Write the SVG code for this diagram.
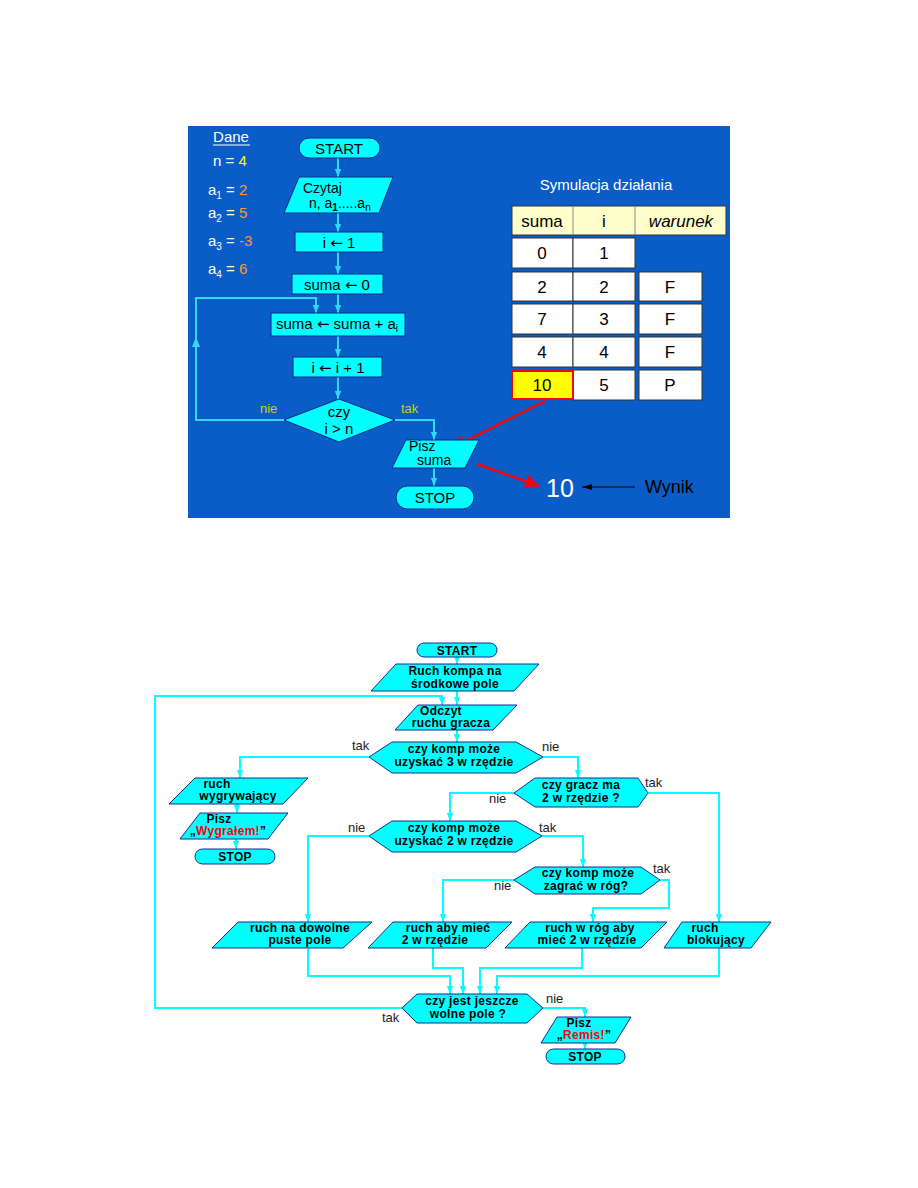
<svg xmlns="http://www.w3.org/2000/svg" width="918" height="1188" viewBox="0 0 918 1188">
<style>
.t{font-family:"Liberation Sans",Arial,sans-serif}
.w{fill:#ffffff}
.k{fill:#000000}
.c{fill:#00ffff;stroke:#1a2a8a;stroke-width:1}
.ct{fill:#00ffff;stroke:#0a2a90;stroke-width:1}
.cl{fill:none;stroke:#33d6ff;stroke-width:2}
.bl{fill:none;stroke:#00ffff;stroke-width:2}
.bt{font-family:"Liberation Sans",Arial,sans-serif;font-weight:bold;font-size:12px;letter-spacing:0.3px;fill:#000;text-anchor:middle}
.lb{font-family:"Liberation Sans",Arial,sans-serif;font-size:13px;fill:#222}
.tt{font-family:"Liberation Sans",Arial,sans-serif;font-size:15px;fill:#000;text-anchor:middle}
.ar{font-family:"DejaVu Sans",sans-serif}
.cell{fill:#ffffff;stroke:#333;stroke-width:1}
.cv{font-family:"Liberation Sans",Arial,sans-serif;font-size:17px;fill:#000;text-anchor:middle}
</style>
<defs>
<marker id="ac" viewBox="0 0 10 10" refX="10" refY="5" markerWidth="8" markerHeight="8" markerUnits="userSpaceOnUse" orient="auto"><path d="M0,1 L10,5 L0,9 z" fill="#33d6ff"/></marker>
<marker id="ab" viewBox="0 0 10 10" refX="10" refY="5" markerWidth="8" markerHeight="8" markerUnits="userSpaceOnUse" orient="auto"><path d="M0,1 L10,5 L0,9 z" fill="#00ffff"/></marker>
<marker id="ar" viewBox="0 0 10 10" refX="10" refY="5" markerWidth="14" markerHeight="14" markerUnits="userSpaceOnUse" orient="auto"><path d="M0,0 L10,5 L0,10 z" fill="#ff0000"/></marker>
<marker id="ak" viewBox="0 0 10 10" refX="10" refY="5" markerWidth="10" markerHeight="10" markerUnits="userSpaceOnUse" orient="auto"><path d="M0,2 L10,5 L0,8 z" fill="#000"/></marker>
</defs>
<rect width="918" height="1188" fill="#ffffff"/>

<!-- TOP PANEL -->
<rect x="188" y="126" width="542" height="392" fill="#0a5cc6"/>

<g id="dane" class="t">
<text x="231" y="142" font-size="15" class="w" text-anchor="middle">Dane</text>
<line x1="213" y1="145" x2="250" y2="145" stroke="#fff" stroke-width="1"/>
<text x="213" y="166" font-size="15" class="w">n = <tspan fill="#ffff00">4</tspan></text>
<text x="208" y="195" font-size="15" class="w">a<tspan font-size="10" dy="4">1</tspan><tspan dy="-4"> = </tspan><tspan fill="#ff9933">2</tspan></text>
<text x="208" y="218" font-size="15" class="w">a<tspan font-size="10" dy="4">2</tspan><tspan dy="-4"> = </tspan><tspan fill="#ff9933">5</tspan></text>
<text x="208" y="246" font-size="15" class="w">a<tspan font-size="10" dy="4">3</tspan><tspan dy="-4"> = </tspan><tspan fill="#ff9933">-3</tspan></text>
<text x="208" y="274" font-size="15" class="w">a<tspan font-size="10" dy="4">4</tspan><tspan dy="-4"> = </tspan><tspan fill="#ff9933">6</tspan></text>
</g>

<g id="connectors-top">
<path class="cl" d="M338,158 V177" marker-end="url(#ac)"/>
<path class="cl" d="M338,213 V232" marker-end="url(#ac)"/>
<path class="cl" d="M338,252 V274" marker-end="url(#ac)"/>
<path class="cl" d="M338,294 V313" marker-end="url(#ac)"/>
<path class="cl" d="M338,336 V357" marker-end="url(#ac)"/>
<path class="cl" d="M338,377 V399" marker-end="url(#ac)"/>
<path class="cl" d="M284,420 H196 V298 H316 V313" marker-end="url(#ac)"/>
<path d="M192,347 L196,337 L200,347 z" fill="#33d6ff"/>
<path class="cl" d="M395,420 H434 V440" marker-end="url(#ac)"/>
<path class="cl" d="M434,468 V486" marker-end="url(#ac)"/>
<text x="260" y="413" class="t" font-size="13" fill="#cccc22">nie</text>
<text x="401" y="413" class="t" font-size="13" fill="#cccc22">tak</text>
<path d="M545,401 L452,448" stroke="#ff0000" stroke-width="2.5" fill="none" marker-end="url(#ar)"/>
<path d="M477,464 L539,486" stroke="#ff0000" stroke-width="2.5" fill="none" marker-end="url(#ar)"/>
<path d="M635,487 H582" stroke="#000" stroke-width="1" fill="none" marker-end="url(#ak)"/>
</g>

<g id="t-start"><rect x="299" y="138" width="81" height="20" rx="10" class="ct"/><text x="339" y="154" class="tt" font-size="16">START</text></g>
<g id="t-czytaj"><polygon points="299,177 393,177 379,213 284,213" class="ct"/>
<text x="303" y="193" class="t" font-size="14">Czytaj</text>
<text x="309" y="208" class="t" font-size="14">n, a<tspan font-size="10" dy="3" font-weight="bold">1</tspan><tspan dy="-3">.....a</tspan><tspan font-size="10" dy="3">n</tspan></text></g>
<g id="t-i1"><rect x="295" y="232" width="88" height="20" class="ct"/><text x="339" y="248" class="tt">i <tspan class="ar">←</tspan> 1</text></g>
<g id="t-suma0"><rect x="292" y="274" width="91" height="20" class="ct"/><text x="337" y="290" class="tt">suma <tspan class="ar">←</tspan> 0</text></g>
<g id="t-sumaai"><rect x="271" y="313" width="134" height="23" class="ct"/><text x="337" y="329" class="tt">suma <tspan class="ar">←</tspan> suma + a<tspan font-size="10" dy="3">i</tspan></text></g>
<g id="t-ii1"><rect x="293" y="357" width="89" height="20" class="ct"/><text x="338" y="373" class="tt">i <tspan class="ar">←</tspan> i + 1</text></g>
<g id="t-cond"><polygon points="284,420 339,399 395,420 339,442" class="ct"/><text x="339" y="417" class="tt">czy</text><text x="339" y="434" class="tt">i &gt; n</text></g>
<g id="t-pisz"><polygon points="406,440 479,440 465,468 392,468" class="ct"/>
<text x="409" y="451" class="t" font-size="14">Pisz</text><text x="417" y="465" class="t" font-size="14">suma</text></g>
<g id="t-stop"><rect x="396" y="486" width="78" height="23" rx="11.5" class="ct"/><text x="435" y="503" class="tt" font-size="16">STOP</text></g>

<g id="sim" class="t">
<text x="606" y="190" font-size="15" class="w" text-anchor="middle">Symulacja działania</text>
<rect x="512" y="206" width="214" height="29" fill="#ffffcc" stroke="#333"/>
<line x1="573" y1="206" x2="573" y2="235" stroke="#888"/>
<line x1="635" y1="206" x2="635" y2="235" stroke="#888"/>
<text x="542" y="227" class="cv">suma</text><text x="604" y="227" class="cv">i</text><text x="681" y="227" class="cv" font-style="italic">warunek</text>
<rect x="512" y="238" width="61" height="30" class="cell"/><rect x="573" y="238" width="62" height="30" class="cell"/>
<text x="542" y="259" class="cv">0</text><text x="604" y="259" class="cv">1</text>
<rect x="512" y="272" width="61" height="29" class="cell"/><rect x="573" y="272" width="62" height="29" class="cell"/><rect x="639" y="272" width="63" height="29" class="cell"/>
<text x="542" y="293" class="cv">2</text><text x="604" y="293" class="cv">2</text><text x="670" y="293" class="cv">F</text>
<rect x="512" y="304" width="61" height="30" class="cell"/><rect x="573" y="304" width="62" height="30" class="cell"/><rect x="639" y="304" width="63" height="30" class="cell"/>
<text x="542" y="325" class="cv">7</text><text x="604" y="325" class="cv">3</text><text x="670" y="325" class="cv">F</text>
<rect x="512" y="337" width="61" height="30" class="cell"/><rect x="573" y="337" width="62" height="30" class="cell"/><rect x="639" y="337" width="63" height="30" class="cell"/>
<text x="542" y="358" class="cv">4</text><text x="604" y="358" class="cv">4</text><text x="670" y="358" class="cv">F</text>
<rect x="573" y="370" width="62" height="30" class="cell"/><rect x="639" y="370" width="63" height="30" class="cell"/>
<rect x="512" y="371" width="61" height="28" fill="#ffff00" stroke="#ff0000" stroke-width="2"/>
<text x="542" y="391" class="cv">10</text><text x="604" y="391" class="cv">5</text><text x="670" y="391" class="cv">P</text>
<text x="560" y="497" font-size="25" class="w" text-anchor="middle">10</text>
<text x="645" y="493" font-size="18" class="k">Wynik</text>
</g>

<!-- BOTTOM FLOWCHART -->
<g id="connectors">
<path class="bl" d="M457,656 V664" marker-end="url(#ab)"/>
<path class="bl" d="M457,691 V705" marker-end="url(#ab)"/>
<path class="bl" d="M457,730 V742" marker-end="url(#ab)"/>
<path class="bl" d="M402,1008 H155 V696 H442 V705" marker-end="url(#ab)"/>
<path class="bl" d="M369,757 H240 V778" marker-end="url(#ab)"/>
<path class="bl" d="M543,757 H578 V778" marker-end="url(#ab)"/>
<path class="bl" d="M648,793 H719 V922" marker-end="url(#ab)"/>
<path class="bl" d="M514,793 H450 V821" marker-end="url(#ab)"/>
<path class="bl" d="M542,836 H583 V867" marker-end="url(#ab)"/>
<path class="bl" d="M369,836 H308 V922" marker-end="url(#ab)"/>
<path class="bl" d="M660,880 H669 V908 H593 V922" marker-end="url(#ab)"/>
<path class="bl" d="M514,880 H443 V922" marker-end="url(#ab)"/>
<path class="bl" d="M308,948 V976 H450 V994" marker-end="url(#ab)"/>
<path class="bl" d="M433,948 V968 H463 V994" marker-end="url(#ab)"/>
<path class="bl" d="M582,948 V968 H480 V994" marker-end="url(#ab)"/>
<path class="bl" d="M719,948 V976 H497 V994" marker-end="url(#ab)"/>
<path class="bl" d="M237,804 V813" marker-end="url(#ab)"/>
<path class="bl" d="M236,839 V849" marker-end="url(#ab)"/>
<path class="bl" d="M543,1008 H585 V1017" marker-end="url(#ab)"/>
<path class="bl" d="M585,1043 V1049" marker-end="url(#ab)"/>
<text x="352" y="750" class="lb">tak</text>
<text x="542" y="751" class="lb">nie</text>
<text x="645" y="787" class="lb">tak</text>
<text x="489" y="803" class="lb">nie</text>
<text x="539" y="832" class="lb">tak</text>
<text x="348" y="832" class="lb">nie</text>
<text x="653" y="873" class="lb">tak</text>
<text x="494" y="890" class="lb">nie</text>
<text x="546" y="1003" class="lb">nie</text>
<text x="382" y="1022" class="lb">tak</text>
</g>

<g id="b-start"><rect x="417" y="643" width="80" height="14" rx="7" class="c"/><text x="457" y="655" class="bt">START</text></g>
<g id="b-ruch"><polygon points="396,664 539,664 514,691 371,691" class="c"/><text x="455" y="675" class="bt">Ruch kompa na</text><text x="455" y="688" class="bt">środkowe pole</text></g>
<g id="b-odczyt"><polygon points="418,705 517,705 493,730 395,730" class="c"/><text x="441" y="715" class="bt">Odczyt</text><text x="451" y="727" class="bt">ruchu gracza</text></g>
<g id="b-d1"><polygon points="369,757 392,742 516,742 543,757 516,773 392,773" class="c"/><text x="454" y="753" class="bt">czy komp może</text><text x="454" y="766" class="bt">uzyskać 3 w rzędzie</text></g>
<g id="b-d2"><polygon points="514,793 535,778 638,778 648,793 638,807 535,807" class="c"/><text x="581" y="789" class="bt">czy gracz ma</text><text x="581" y="802" class="bt">2 w rzędzie ?</text></g>
<g id="b-d3"><polygon points="369,836 392,821 516,821 542,836 516,852 392,852" class="c"/><text x="454" y="832" class="bt">czy komp może</text><text x="454" y="845" class="bt">uzyskać 2 w rzędzie</text></g>
<g id="b-d4"><polygon points="514,880 535,867 641,867 660,880 641,894 535,894" class="c"/><text x="588" y="877" class="bt">czy komp może</text><text x="586" y="890" class="bt">zagrać w róg?</text></g>
<g id="b-wyg"><polygon points="195,778 308,778 283,804 169,804" class="c"/><text x="217" y="788" class="bt">ruch</text><text x="238" y="800" class="bt">wygrywający</text></g>
<g id="b-piszw"><polygon points="200,813 288,813 268,839 180,839" class="c"/><text x="219" y="823" class="bt">Pisz</text><text x="228" y="835" class="bt">„<tspan fill="#ff0000">Wygrałem!</tspan>”</text></g>
<g id="b-stop1"><rect x="195" y="849" width="80" height="15" rx="7.5" class="c"/><text x="235" y="861" class="bt">STOP</text></g>
<g id="b-dowolne"><polygon points="238,922 372,922 343,948 212,948" class="c"/><text x="300" y="932" class="bt">ruch na dowolne</text><text x="300" y="944" class="bt">puste pole</text></g>
<g id="b-aby"><polygon points="393,922 512,922 486,948 368,948" class="c"/><text x="448" y="932" class="bt">ruch aby mieć</text><text x="435" y="944" class="bt">2 w rzędzie</text></g>
<g id="b-rog"><polygon points="530,922 667,922 641,948 505,948" class="c"/><text x="590" y="932" class="bt">ruch w róg aby</text><text x="587" y="944" class="bt">mieć 2 w rzędzie</text></g>
<g id="b-blok"><polygon points="682,922 771,922 751,948 664,948" class="c"/><text x="705" y="932" class="bt">ruch</text><text x="716" y="944" class="bt">blokujący</text></g>
<g id="b-d5"><polygon points="402,1008 417,994 527,994 543,1008 527,1023 417,1023" class="c"/><text x="472" y="1005" class="bt">czy jest jeszcze</text><text x="468" y="1018" class="bt">wolne pole ?</text></g>
<g id="b-piszr"><polygon points="557,1017 631,1017 615,1043 541,1043" class="c"/><text x="579" y="1027" class="bt">Pisz</text><text x="584" y="1039" class="bt">„<tspan fill="#ff0000">Remis!</tspan>”</text></g>
<g id="b-stop2"><rect x="546" y="1049" width="79" height="15" rx="7.5" class="c"/><text x="585" y="1061" class="bt">STOP</text></g>
</svg>
